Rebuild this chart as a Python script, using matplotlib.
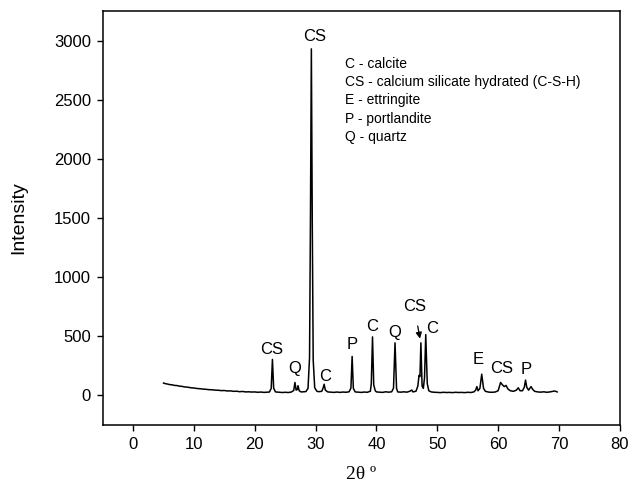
import matplotlib.pyplot as plt

# ================================
# DATA
# ================================
two_theta = [
    5.0, 5.3, 5.7, 6.0, 6.4, 6.8, 7.2, 7.6, 8.0, 8.5, 9.0, 9.5, 10.0, 10.5,
    11.0, 11.5, 12.0, 12.5, 13.0, 13.5, 14.0, 14.5, 15.0, 15.5, 16.0, 16.5,
    17.0, 17.5, 18.0, 18.5, 19.0, 19.5, 20.0, 20.5, 21.0, 21.5, 22.0, 22.4,
    22.7, 22.9, 23.1, 23.4, 24.0, 24.5, 25.0, 25.5, 26.0, 26.4, 26.6, 26.8,
    27.0, 27.1, 27.3, 27.6, 28.0, 28.4, 28.75, 29.0, 29.15, 29.3, 29.45,
    29.6, 29.85, 30.2, 30.5, 31.0, 31.2, 31.4, 31.6, 32.0, 32.5, 33.0, 33.5,
    34.0, 34.5, 35.0, 35.5, 35.8, 36.0, 36.2, 36.5, 37.0, 37.5, 38.0, 38.5,
    39.0, 39.15, 39.35, 39.55, 39.8, 40.0, 40.5, 41.0, 41.5, 42.0, 42.5,
    42.8, 43.05, 43.3, 43.5, 44.0, 44.5, 45.0, 45.5, 45.8, 46.0, 46.5, 46.8,
    47.0, 47.15, 47.3, 47.5, 47.7, 47.9, 48.1, 48.35, 48.6, 49.0, 49.5,
    50.0, 50.5, 51.0, 51.5, 52.0, 52.5, 53.0, 53.5, 54.0, 54.5, 55.0, 55.5,
    56.0, 56.3, 56.5, 56.7, 57.0, 57.3, 57.6, 57.9, 58.5, 59.0, 59.5, 60.0,
    60.4, 60.7, 61.0, 61.3, 61.6, 62.0, 62.5, 63.0, 63.3, 63.6, 64.0, 64.3,
    64.5, 64.7, 65.0, 65.4, 65.7, 66.0, 66.5, 67.0, 67.5, 68.0, 68.5, 69.0,
    69.3, 69.7,
]
intensity = [
    105, 100, 96, 92, 90, 85, 84, 79, 77, 72, 70, 65, 63, 59,
    57, 54, 52, 49, 48, 45, 44, 41, 42, 38, 39, 35,
    36, 32, 34, 30, 31, 29, 30, 27, 29, 26, 28, 29,
    60, 305, 62, 30, 27, 25, 27, 25, 29, 42, 110, 45,
    52, 82, 40, 30, 31, 33, 60, 320, 1500, 2930, 1450,
    300, 65, 36, 32, 35, 58, 95, 45, 30, 28, 26, 29,
    26, 29, 27, 31, 62, 330, 60, 30, 28, 26, 29, 27,
    36, 100, 495, 90, 40, 30, 28, 26, 31, 28, 31,
    62, 445, 60, 30, 28, 31, 28, 36, 46, 30, 36, 80,
    170, 160, 445, 80, 60, 150, 515, 100, 40, 30, 27,
    26, 24, 27, 25, 26, 24, 27, 25, 26, 24, 27, 25,
    30, 45, 75, 40, 60, 180, 60, 35, 28, 27, 29, 40,
    110, 90, 75, 85, 55, 40, 35, 45, 65, 40, 40, 70,
    130, 70, 45, 75, 50, 35, 30, 28, 31, 27, 30, 35,
    38, 30,
]

# phase labels: text, x, y
peak_labels = [
    ("CS", 22.8, 385),
    ("Q", 26.6, 225),
    ("C", 31.6, 160),
    ("CS", 29.9, 3035),
    ("P", 36.0, 430),
    ("C", 39.3, 585),
    ("Q", 43.0, 535),
    ("C", 49.2, 565),
    ("E", 56.8, 300),
    ("CS", 60.5, 225),
    ("P", 64.6, 220),
]

key_lines = [
    "C - calcite",
    "CS - calcium silicate hydrated (C-S-H)",
    "E - ettringite",
    "P - portlandite",
    "Q - quartz",
]

# ================================
# PLOT
# ================================
plt.rcParams["font.family"] = ["Liberation Sans", "DejaVu Sans"]

fig = plt.figure(figsize=(6.28, 4.88), dpi=100)
ax = fig.add_axes([0.1635, 0.129, 0.8235, 0.8485])

ax.plot(two_theta, intensity, color="black", lw=1.1)

for txt, x, y in peak_labels:
    ax.text(x, y, txt, ha="center", va="center", fontsize=12)

# the CS peak squeezed next to calcite at ~48 gets an arrow
ax.annotate("CS", xy=(47.15, 480), xytext=(46.2, 755),
            ha="center", va="center", fontsize=12,
            arrowprops=dict(arrowstyle="-|>", color="black", lw=0.9,
                            shrinkA=7, shrinkB=0, mutation_scale=9))

ax.text(34.9, 2860, "\n".join(key_lines), ha="left", va="top",
        fontsize=10, linespacing=1.38)

ax.set_xlim(-5, 80)
ax.set_ylim(-250, 3250)
ax.set_xticks(range(0, 81, 10))
ax.set_yticks(range(0, 3001, 500))
ax.tick_params(direction="out", length=4.5, width=1, labelsize=12, pad=4)
for s in ax.spines.values():
    s.set_linewidth(1.1)

ax.set_xlabel("2θ º", fontsize=14, family=["Liberation Serif", "DejaVu Serif"])
ax.set_ylabel("Intensity", fontsize=14)
ax.xaxis.set_label_coords(0.5, -0.1)
ax.yaxis.set_label_coords(-0.145, 0.5)

fig.savefig("out.png", dpi=100)
